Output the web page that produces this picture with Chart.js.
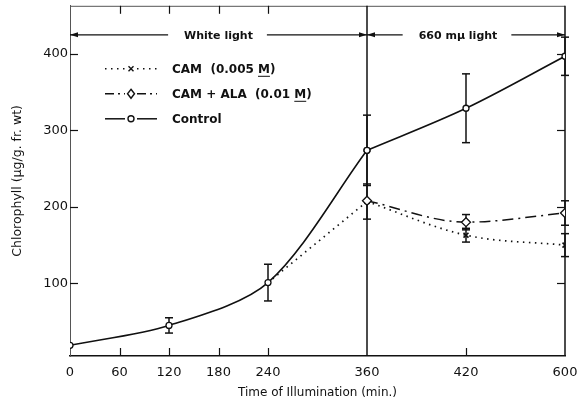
<!DOCTYPE html>
<html>
<head>
<meta charset="utf-8">
<script src="https://cdn.jsdelivr.net/npm/chart.js@4/dist/chart.umd.min.js"></script>
<style>
  html, body { margin: 0; padding: 0; background: #fff; }
  #wrap { width: 577px; height: 406px; }
</style>
</head>
<body>
<div id="wrap"><canvas id="chart"></canvas></div>
<script>
// x axis is broken: 0-360 evenly, then 360-420 and 420-600 each get two slots
var tickMinutes = [0, 60, 120, 180, 240, 360, 420, 600];
var breakMinutes = [0, 360, 420, 600];
var breakSlots = [0, 6, 8, 10];
var yTicks = [100, 200, 300, 400];
var switchMinute = 360; // white light -> 660 mu light

var controlTimes = [0, 120, 240, 360, 420, 600];
var control = [19, 45, 101, 274, 329, 397];
var controlErr = [0, 10, 24, 46, 45, 25];

var camTimes = [240, 360, 420, 600];
var cam = [101, 207, 163, 150];
var camErr = [0, 23, 9, 15];

var alaTimes = [360, 420, 600];
var ala = [208, 180, 192];
var alaErr = [0, 10, 16];

var seriesNames = ['CAM  (0.005 M)', 'CAM + ALA  (0.01 M)', 'Control'];
var phaseNames = ['White light', '660 m\u03bc light'];

var ink = '#111';
Chart.defaults.font.family = "'DejaVu Sans', sans-serif";
Chart.defaults.color = ink;

function slot(min) {
  for (var i = 1; i < breakMinutes.length; i++) {
    if (min <= breakMinutes[i]) {
      var a = breakMinutes[i - 1], b = breakMinutes[i];
      return breakSlots[i - 1] + (min - a) / (b - a) * (breakSlots[i] - breakSlots[i - 1]);
    }
  }
  return breakSlots[breakSlots.length - 1];
}

// phase: 0 = up to the switch, 1 = from the switch on (curves kink there)
function points(times, vals, phase) {
  var out = [];
  times.forEach(function(t, i) {
    if (phase === 0 ? t <= switchMinute : t >= switchMinute) out.push({x: slot(t), y: vals[i]});
  });
  return out;
}

var errSets = [
  {times: camTimes, vals: cam, err: camErr},
  {times: alaTimes, vals: ala, err: alaErr},
  {times: controlTimes, vals: control, err: controlErr}
];

// ==========================================================================
// Frame, inner ticks, error bars, phase arrows and legend
// ==========================================================================
function line(ctx, x1, y1, x2, y2) {
  ctx.beginPath();
  ctx.moveTo(x1, y1);
  ctx.lineTo(x2, y2);
  ctx.stroke();
}

function arrowHead(ctx, x, y, dir) {
  ctx.beginPath();
  ctx.moveTo(x, y);
  ctx.lineTo(x - dir * 8, y - 2.5);
  ctx.lineTo(x - dir * 8, y + 2.5);
  ctx.closePath();
  ctx.fill();
}

function marker(ctx, style, x, y) {
  ctx.setLineDash([]);
  ctx.lineWidth = 1.4;
  ctx.beginPath();
  if (style === 'circle') {
    ctx.arc(x, y, 3, 0, Math.PI * 2);
    ctx.fillStyle = '#fff'; ctx.fill(); ctx.stroke();
  } else if (style === 'rectRot') {
    ctx.moveTo(x, y - 4.5); ctx.lineTo(x + 3.5, y); ctx.lineTo(x, y + 4.5); ctx.lineTo(x - 3.5, y);
    ctx.closePath();
    ctx.fillStyle = '#fff'; ctx.fill(); ctx.stroke();
  } else {
    ctx.moveTo(x - 2.5, y - 2.5); ctx.lineTo(x + 2.5, y + 2.5);
    ctx.moveTo(x + 2.5, y - 2.5); ctx.lineTo(x - 2.5, y + 2.5);
    ctx.stroke();
  }
}

var decor = {
  id: 'decor',
  beforeDatasetsDraw: function(chart) {
    var ctx = chart.ctx, a = chart.chartArea, xs = chart.scales.x, ys = chart.scales.y;
    ctx.save();
    ctx.strokeStyle = ink;
    ctx.setLineDash([]);

    // top border, right border, divider at the light switch
    ctx.lineWidth = 1;
    ctx.strokeStyle = '#555';
    line(ctx, a.left, a.top + 0.5, a.right, a.top + 0.5);
    ctx.strokeStyle = ink;
    ctx.lineWidth = 1.5;
    line(ctx, a.right, a.top, a.right, a.bottom);
    var xs360 = xs.getPixelForValue(slot(switchMinute));
    line(ctx, xs360, a.top, xs360, a.bottom);

    // inner ticks
    ctx.lineWidth = 1.2;
    tickMinutes.forEach(function(m) {
      if (m === 0 || m === switchMinute || m === 600) return;
      var px = Math.round(xs.getPixelForValue(slot(m))) + 0.5;
      line(ctx, px, a.bottom, px, a.bottom - 8);
      if (m <= 240) line(ctx, px, a.top, px, a.top + 8);
    });
    yTicks.forEach(function(v) {
      var py = Math.round(ys.getPixelForValue(v)) + 0.5;
      line(ctx, a.left, py, a.left + 8, py);
      line(ctx, a.right, py, a.right - 8, py);
    });

    // error bars
    ctx.lineWidth = 1.5;
    errSets.forEach(function(s) {
      s.times.forEach(function(t, i) {
        var e = s.err[i];
        if (!e) return;
        var px = xs.getPixelForValue(slot(t));
        var hi = ys.getPixelForValue(s.vals[i] + e);
        var lo = ys.getPixelForValue(s.vals[i] - e);
        line(ctx, px, hi, px, lo);
        line(ctx, px - 4, hi, px + 4, hi);
        line(ctx, px - 4, lo, px + 4, lo);
      });
    });
    ctx.restore();
  },
  afterDraw: function(chart) {
    var ctx = chart.ctx, a = chart.chartArea, xs = chart.scales.x;
    ctx.save();
    ctx.strokeStyle = ink;
    ctx.fillStyle = ink;

    // phase arrows across the top
    var ay = a.top + 29;
    var spans = [[xs.getPixelForValue(slot(0)), xs.getPixelForValue(slot(switchMinute))],
                 [xs.getPixelForValue(slot(switchMinute)), xs.getPixelForValue(slot(600))]];
    ctx.font = "bold 11px 'DejaVu Sans'";
    ctx.textBaseline = 'middle';
    ctx.textAlign = 'center';
    ctx.lineWidth = 1.3;
    spans.forEach(function(sp, i) {
      var cx = (sp[0] + sp[1]) / 2 - (i === 1 ? 8 : 0);
      var w = ctx.measureText(phaseNames[i]).width;
      ctx.fillText(phaseNames[i], cx, ay + 1);
      line(ctx, sp[0], ay, cx - w / 2 - 16, ay);
      line(ctx, cx + w / 2 + 14, ay, sp[1], ay);
      arrowHead(ctx, sp[0], ay, -1);
      arrowHead(ctx, sp[1], ay, 1);
    });

    // legend
    var styles = ['crossRot', 'rectRot', 'circle'];
    var dashes = [[1.5, 4.5], [9, 4, 2, 4], []];
    ctx.font = "bold 12px 'DejaVu Sans'";
    ctx.textAlign = 'left';
    seriesNames.forEach(function(name, i) {
      var ry = a.top + 63 + i * 25;
      var x1 = a.left + 35, x2 = a.left + 87, xm = (x1 + x2) / 2;
      ctx.lineWidth = 1.5;
      ctx.setLineDash(dashes[i]);
      line(ctx, x1, ry, xm - 6, ry);
      line(ctx, xm + 6, ry, x2, ry);
      marker(ctx, styles[i], xm, ry);
      ctx.fillStyle = ink;
      var tx = a.left + 102;
      ctx.fillText(name, tx, ry + 1);
      if (/M\)$/.test(name)) {
        var pre = ctx.measureText(name.slice(0, -2)).width;
        var mw = ctx.measureText('M').width;
        ctx.setLineDash([]);
        ctx.lineWidth = 1;
        line(ctx, tx + pre, ry + 7.5, tx + pre + mw, ry + 7.5);
      }
    });
    ctx.restore();
  }
};

var controlStyle = {
  borderColor: ink,
  borderWidth: 1.6,
  cubicInterpolationMode: 'monotone',
  pointStyle: 'circle',
  pointRadius: 3,
  pointBorderWidth: 1.3,
  pointBackgroundColor: '#fff',
  pointBorderColor: ink
};
var camStyle = {
  borderColor: ink,
  borderWidth: 1.7,
  borderDash: [1.5, 4.5],
  cubicInterpolationMode: 'monotone',
  pointStyle: 'crossRot',
  pointRadius: 3.5,
  pointBorderWidth: 1.6,
  pointBorderColor: ink
};

new Chart(document.getElementById('chart'), {
  type: 'line',
  data: {
    datasets: [
      Object.assign({label: seriesNames[2], data: points(controlTimes, control, 0)}, controlStyle,
                    {cubicInterpolationMode: 'default', tension: 0.3}),
      Object.assign({label: seriesNames[2], data: points(controlTimes, control, 1)}, controlStyle),
      {
        label: seriesNames[1],
        data: points(alaTimes, ala, 1),
        borderColor: ink,
        borderWidth: 1.5,
        borderDash: [11, 5, 2, 5],
        cubicInterpolationMode: 'monotone',
        pointStyle: 'rectRot',
        pointRadius: 4.5,
        pointBorderWidth: 1.3,
        pointBackgroundColor: '#fff',
        pointBorderColor: ink
      },
      Object.assign({label: seriesNames[0], data: points(camTimes, cam, 0)}, camStyle, {pointRadius: 0}),
      Object.assign({label: seriesNames[0], data: points(camTimes, cam, 1)}, camStyle)
    ]
  },
  options: {
    responsive: true,
    maintainAspectRatio: false,
    animation: false,
    layout: { padding: { top: 5, right: 12, left: 0, bottom: 0 } },
    plugins: { legend: { display: false }, tooltip: { enabled: false } },
    scales: {
      x: {
        type: 'linear',
        min: 0,
        max: breakSlots[breakSlots.length - 1],
        afterBuildTicks: function(s) {
          s.ticks = tickMinutes.map(function(m) { return {value: slot(m)}; });
        },
        afterFit: function(s) {
          s.height = 50;
          s.paddingLeft = 0;
          s.paddingRight = 0;
        },
        ticks: {
          autoSkip: false,
          maxRotation: 0,
          padding: 9,
          font: { size: 13 },
          callback: function(v, i) { return String(tickMinutes[i]); }
        },
        grid: { display: false, drawTicks: false },
        border: { display: true, color: ink, width: 1.5 },
        title: {
          display: true,
          text: 'Time of Illumination (min.)',
          font: { size: 12 },
          padding: { top: 0, bottom: 6 }
        }
      },
      y: {
        min: 5,
        max: 463,
        afterBuildTicks: function(s) {
          s.ticks = yTicks.map(function(v) { return {value: v}; });
        },
        afterFit: function(s) {
          s.width = 70;
          s.paddingTop = 0;
          s.paddingBottom = 0;
        },
        ticks: { padding: 2, font: { size: 13 } },
        grid: { display: false, drawTicks: false },
        border: { display: true, color: '#555', width: 1 },
        title: {
          display: true,
          text: 'Chlorophyll (\u00b5g/g. fr. wt)',
          font: { size: 12.5 },
          padding: { top: 10, bottom: 0 }
        }
      }
    }
  },
  plugins: [decor]
});
</script>
</body>
</html>
